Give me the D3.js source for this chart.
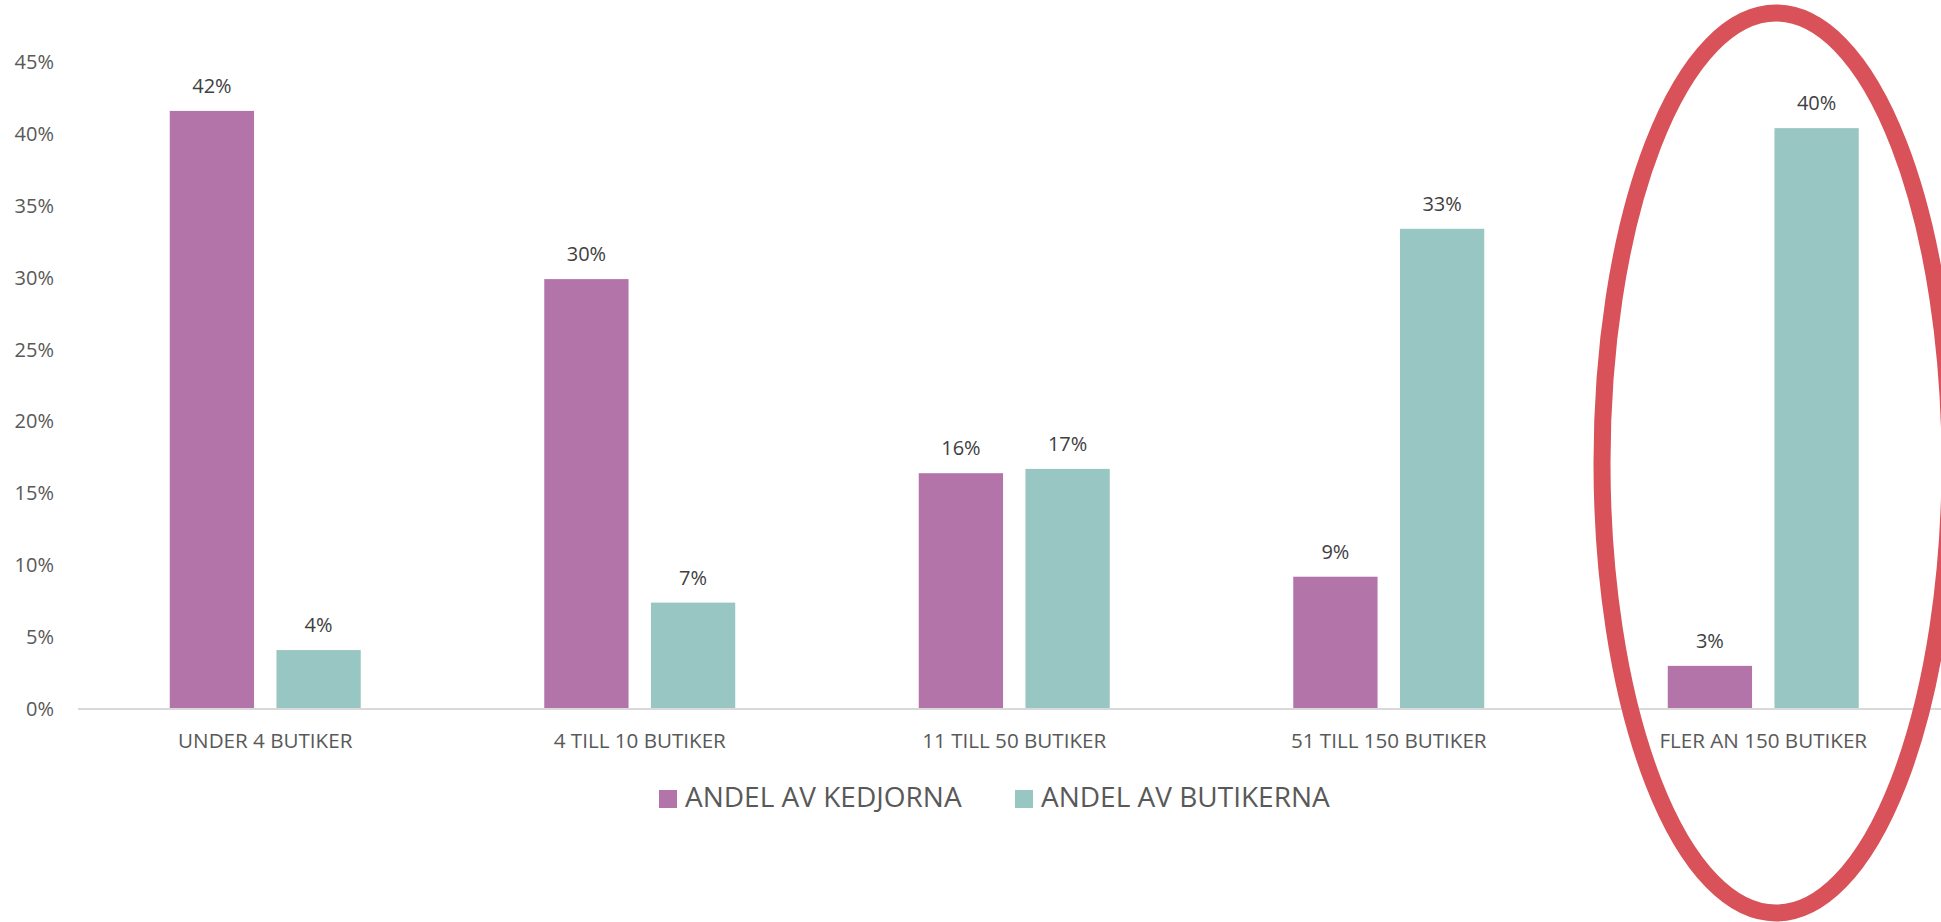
<!DOCTYPE html>
<html lang="sv">
<head>
    <meta charset="UTF-8">
    <title>Andel av kedjorna / butikerna</title>
    <script src="https://d3js.org/d3.v7.min.js"></script>
    <style>
        body { margin: 0; background: #fff; }
        text { font-family: "Open Sans", sans-serif; }
    </style>
</head>
<body>
    <script>
        // data (percent)
        const categories = ['UNDER 4 BUTIKER', '4 TILL 10 BUTIKER', '11 TILL 50 BUTIKER', '51 TILL 150 BUTIKER', 'FLER AN 150 BUTIKER'];
        const seriesNames = ['ANDEL AV KEDJORNA', 'ANDEL AV BUTIKERNA'];
        const kedjorna = [41.6, 29.9, 16.4, 9.2, 3.0];
        const butikerna = [4.1, 7.4, 16.7, 33.4, 40.4];
        const yTicks = [0, 5, 10, 15, 20, 25, 30, 35, 40, 45];
        const colors = ['#b374aa', '#98c7c3'];

        const width = 1941, height = 922;

        const svg = d3.select('body').append('svg')
            .attr('width', width)
            .attr('height', height);

        const rows = categories.map((c, i) => ({ cat: c, values: [kedjorna[i], butikerna[i]] }));

        const x0 = d3.scaleBand()
            .domain(categories)
            .range([78, 78 + 5 * 374.5])
            .paddingInner(0.49)
            .paddingOuter(0.245);

        const x1 = d3.scaleBand()
            .domain([0, 1])
            .range([0, x0.bandwidth()])
            .paddingInner(0.21);

        const y = d3.scaleLinear()
            .domain([0, 45])
            .range([709, 62]);

        // y axis labels (no line, no gridlines)
        svg.append('g')
            .selectAll('text')
            .data(yTicks)
            .enter().append('text')
            .attr('x', 54)
            .attr('y', d => y(d))
            .attr('dy', '0.35em')
            .attr('text-anchor', 'end')
            .attr('font-size', 20)
            .attr('fill', '#595959')
            .text(d => d + '%');

        // bars
        const groups = svg.append('g')
            .selectAll('g')
            .data(rows)
            .enter().append('g')
            .attr('transform', d => `translate(${x0(d.cat)},0)`);

        groups.selectAll('rect')
            .data(d => d.values.map((v, j) => ({ v, j })))
            .enter().append('rect')
            .attr('x', d => x1(d.j))
            .attr('width', x1.bandwidth())
            .attr('y', d => y(d.v))
            .attr('height', d => y(0) - y(d.v))
            .attr('fill', d => colors[d.j]);

        groups.selectAll('text')
            .data(d => d.values.map((v, j) => ({ v, j })))
            .enter().append('text')
            .attr('x', d => x1(d.j) + x1.bandwidth() / 2)
            .attr('y', d => y(d.v) - 18)
            .attr('text-anchor', 'middle')
            .attr('font-size', 20)
            .attr('fill', '#404040')
            .text(d => Math.round(d.v) + '%');

        // x axis baseline
        svg.append('line')
            .attr('x1', 78)
            .attr('x2', width)
            .attr('y1', y(0))
            .attr('y2', y(0))
            .attr('stroke', '#d9d9d9')
            .attr('stroke-width', 2);

        // category labels
        svg.append('g')
            .selectAll('text')
            .data(categories)
            .enter().append('text')
            .attr('x', d => x0(d) + x0.bandwidth() / 2)
            .attr('y', 748)
            .attr('text-anchor', 'middle')
            .attr('font-size', 20.6)
            .attr('fill', '#595959')
            .text(d => d);

        // legend
        const legendX = [659, 1015];
        const legend = svg.append('g')
            .selectAll('g')
            .data(seriesNames)
            .enter().append('g')
            .attr('transform', (d, i) => `translate(${legendX[i]},790)`);

        legend.append('rect')
            .attr('width', 18)
            .attr('height', 18)
            .attr('fill', (d, i) => colors[i]);

        legend.append('text')
            .attr('x', 26)
            .attr('y', 17)
            .attr('font-size', 28)
            .attr('fill', '#595959')
            .text(d => d);

        // red highlight ring around the last group
        svg.append('ellipse')
            .attr('cx', 1776)
            .attr('cy', 463)
            .attr('rx', 174)
            .attr('ry', 450)
            .attr('fill', 'none')
            .attr('stroke', '#d95159')
            .attr('stroke-width', 17);
    </script>
</body>
</html>
